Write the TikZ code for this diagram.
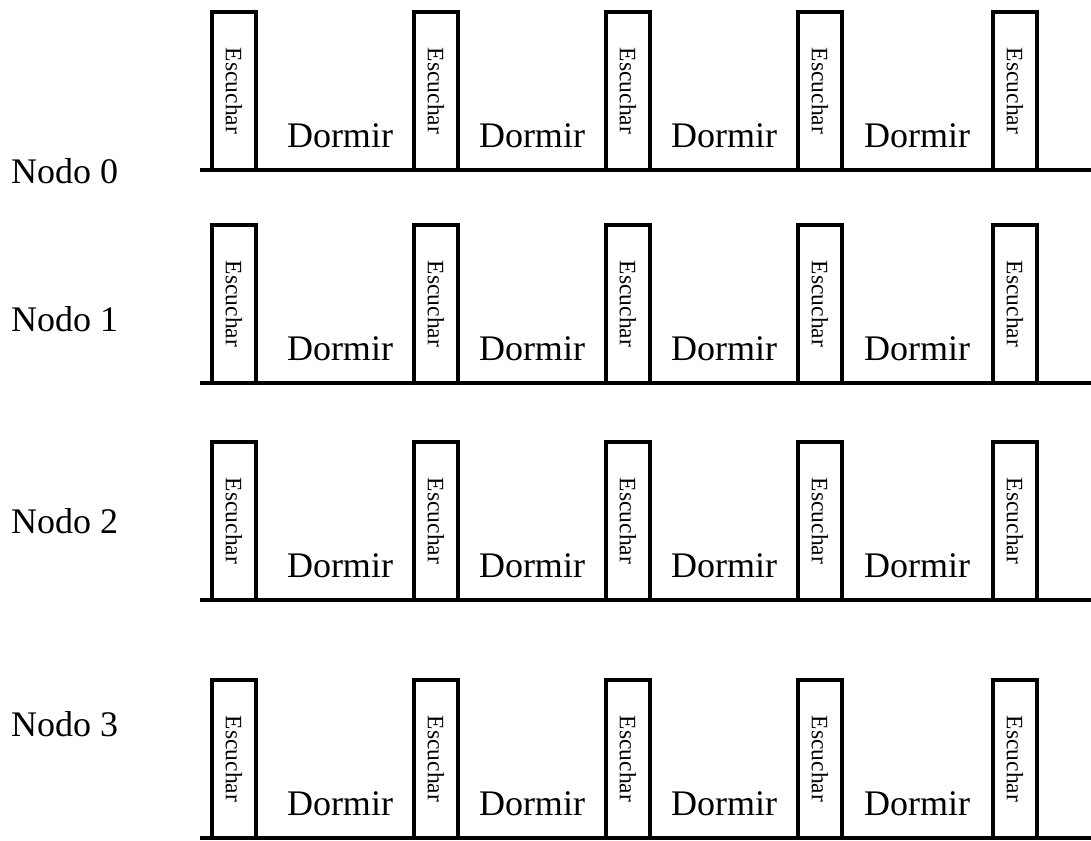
\documentclass[tikz,border=0pt]{standalone}
\usepackage{fontspec}
\setmainfont{Liberation Serif}
\usepackage{tikz}
\usetikzlibrary{positioning,calc}

\tikzset{
  escuchar/.style={draw, line width=3.5pt, rotate=-90, minimum width=158pt, minimum height=44pt, inner sep=0pt, font=\fontsize{23.5}{26}\selectfont},
  dormir/.style={anchor=base, inner sep=0pt, font=\fontsize{36}{40}\selectfont},
  nodo/.style={anchor=base west, inner sep=0pt, font=\fontsize{36}{40}\selectfont},
  linea/.style={line width=4pt}
}

\begin{document}
\begin{tikzpicture}[x=1pt,y=-1pt]
  \useasboundingbox (0,0) rectangle (1091,840);
  \foreach \r/\ly/\ny in {0/170/183, 1/383/331, 2/600/533, 3/838/736} {
    \node[nodo] (n\r) at (11,\ny) {Nodo \r};
    \coordinate (l\r) at (200,\ly);
    \coordinate (r\r) at (1091,\ly);
    \draw[linea] (l\r) -- (r\r);
    \foreach \x [count=\i] in {234,436,628,820,1015}
      \node[escuchar] (e\r-\i) at (\x,\ly-79) {Escuchar};
    \foreach \x [count=\i] in {340,532,724,917}
      \node[dormir] (d\r-\i) at (\x,\ly-23) {Dormir};
  }
\end{tikzpicture}
\end{document}
